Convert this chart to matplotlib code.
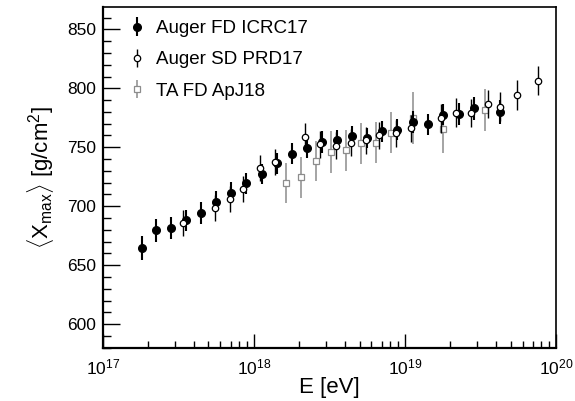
import numpy as np
import matplotlib
matplotlib.use("Agg")
import matplotlib.pyplot as plt
from matplotlib.ticker import LogLocator, MultipleLocator, NullFormatter

plt.rcParams["font.family"] = ["Liberation Sans", "DejaVu Sans"]
plt.rcParams["mathtext.fontset"] = "custom"
plt.rcParams["mathtext.rm"] = "Liberation Sans"
plt.rcParams["mathtext.it"] = "Liberation Sans:italic"
plt.rcParams["mathtext.bf"] = "Liberation Sans:bold"

# Auger FD ICRC17
lg_fd = [17.26, 17.35, 17.45, 17.55, 17.65, 17.75, 17.85, 17.95, 18.05, 18.15,
         18.25, 18.35, 18.45, 18.55, 18.65, 18.75, 18.85, 18.95, 19.05, 19.15,
         19.25, 19.36, 19.46, 19.63]
x_fd = [664.5, 679.5, 681.5, 688.0, 694.5, 704.0, 711.5, 719.5, 727.5, 736.5,
        744.5, 749.5, 754.5, 756.0, 759.5, 757.5, 763.5, 765.0, 771.5, 769.5,
        777.5, 778.0, 783.0, 780.0]
err_fd = [10.5, 9.5, 9.0, 9.0, 9.5, 9.0, 9.0, 9.0, 8.5, 9.0,
          9.0, 9.0, 9.0, 8.5, 8.5, 8.5, 9.0, 9.0, 9.0, 9.0,
          9.0, 9.5, 10.0, 10.0]

# Auger SD PRD17
lg_sd = [17.53, 17.74, 17.84, 17.93, 18.04, 18.14, 18.34, 18.44, 18.54, 18.64,
         18.74, 18.83, 18.94, 19.04, 19.24, 19.34, 19.44, 19.55, 19.63, 19.74,
         19.88]
x_sd = [686.0, 698.5, 706.5, 715.0, 732.5, 737.5, 759.0, 752.5, 751.5, 754.0,
        756.0, 760.0, 762.0, 766.0, 774.5, 779.5, 779.0, 787.0, 784.5, 794.5,
        806.5]
err_sd = [11.0, 11.0, 11.0, 11.0, 11.0, 11.0, 11.5, 11.5, 11.5, 11.5,
          11.5, 11.5, 11.5, 11.5, 12.0, 12.0, 12.0, 12.0, 12.0, 12.5,
          12.5]

# TA FD ApJ18
lg_ta = [18.21, 18.31, 18.41, 18.51, 18.61, 18.71, 18.81, 18.91, 19.05, 19.25, 19.53]
x_ta = [720.0, 724.5, 738.5, 746.0, 747.5, 753.5, 754.0, 762.5, 774.5, 765.5, 781.5]
err_ta = [17.0, 17.5, 17.0, 17.5, 17.5, 17.5, 17.5, 17.5, 22.0, 20.0, 18.0]

fig = plt.figure(figsize=(5.75, 4.01), dpi=100)
ax = fig.add_axes([0.179, 0.133, 0.788, 0.8495])

grey = "#8c8c8c"

ax.errorbar(10 ** np.array(lg_fd), x_fd, yerr=err_fd, fmt="o", color="black",
            ms=5.5, elinewidth=1.5, capsize=0, label="Auger FD ICRC17", zorder=3)
ax.errorbar(10 ** np.array(lg_sd), x_sd, yerr=err_sd, fmt="o", color="black",
            mfc="white", mec="black", ms=4.6, mew=0.9, elinewidth=1.0, capsize=0,
            label="Auger SD PRD17", zorder=4)
ax.errorbar(10 ** np.array(lg_ta), x_ta, yerr=err_ta, fmt="s", color=grey,
            mfc="white", mec=grey, ms=4.6, mew=0.9, elinewidth=1.1, capsize=0,
            label="TA FD ApJ18", zorder=2)

ax.set_xscale("log")
ax.set_xlim(1e17, 1e20)
ax.set_ylim(580, 869)

ax.yaxis.set_major_locator(MultipleLocator(50))
ax.yaxis.set_minor_locator(MultipleLocator(10))
ax.xaxis.set_major_locator(LogLocator(base=10, numticks=10))
ax.xaxis.set_minor_locator(LogLocator(base=10, subs=np.arange(2, 10), numticks=100))
ax.xaxis.set_minor_formatter(NullFormatter())

ax.tick_params(axis="both", which="both", direction="in", top=False, right=False,
               labelsize=12.5, width=1.0)
ax.tick_params(axis="y", which="major", length=12, pad=5)
ax.tick_params(axis="y", which="minor", length=6)
ax.tick_params(axis="x", which="major", length=10, pad=7)
ax.tick_params(axis="x", which="minor", length=5)

for s in ax.spines.values():
    s.set_linewidth(1.2)
ax.spines["left"].set_linewidth(1.6)
ax.spines["bottom"].set_linewidth(1.6)

ax.set_xlabel("E [eV]", fontsize=16, labelpad=0)
ax.set_ylabel(r"$\langle$X$_{\mathrm{max}}\rangle$ [g/cm$^2$]", fontsize=16, labelpad=8)

leg = ax.legend(loc="upper left", frameon=False, fontsize=13.5, handlelength=0.8,
                handletextpad=0.6, labelspacing=0.75, borderaxespad=0.3,
                bbox_to_anchor=(0.03, 1.0))

fig.savefig("out.png", dpi=100)
